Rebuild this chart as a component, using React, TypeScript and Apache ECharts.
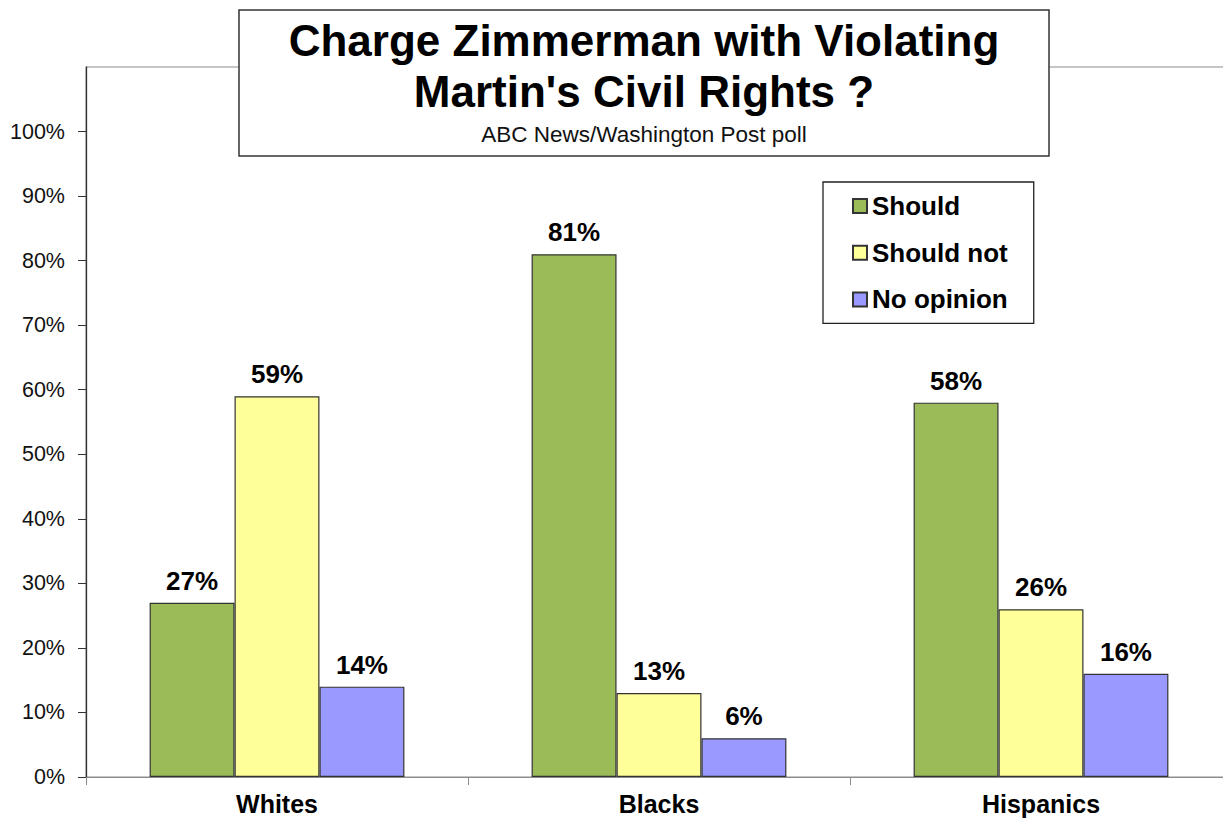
import React, { useEffect, useRef } from "react";
import * as echarts from "echarts";

const categories = ["Whites", "Blacks", "Hispanics"];
const seriesNames = ["Should", "Should not", "No opinion"];
const shouldValues = [27, 81, 58];
const shouldNotValues = [59, 13, 26];
const noOpinionValues = [14, 6, 16];
const yTickValues = [0, 10, 20, 30, 40, 50, 60, 70, 80, 90, 100];
const titleLine1 = "Charge Zimmerman with Violating";
const titleLine2 = "Martin's Civil Rights ?";
const subtitle = "ABC News/Washington Post poll";

const FONT = "'Liberation Sans', Arial, sans-serif";
const colors = ["#9BBB59", "#FFFF99", "#9999FF"];

export default function App() {
  const ref = useRef<HTMLDivElement>(null);
  useEffect(() => {
    document.body.style.margin = "0";
    if (!ref.current) return;
    const chart = echarts.init(ref.current, null, { renderer: "svg" });
    const values = [shouldValues, shouldNotValues, noOpinionValues];
    chart.setOption({
      animation: false,
      backgroundColor: "#fff",
      textStyle: { fontFamily: FONT },
      grid: {
        left: 86,
        top: 67,
        width: 1146,
        height: 710,
        show: true,
        borderColor: "#8c8c8c",
        borderWidth: 1,
        backgroundColor: "transparent",
      },
      legend: {
        left: 823,
        top: 182,
        orient: "vertical",
        padding: [11, 26, 11, 29],
        itemGap: 20.7,
        itemWidth: 14,
        itemHeight: 14,
        borderColor: "#222",
        borderWidth: 1.3,
        icon: "rect",
        textStyle: {
          fontFamily: FONT,
          fontSize: 26,
          fontWeight: "bold",
          lineHeight: 26,
          color: "#000",
        },
        data: seriesNames,
      },
      xAxis: {
        type: "category",
        data: categories,
        axisLine: { lineStyle: { color: "#8c8c8c", width: 1 } },
        axisTick: { show: true, length: 8, lineStyle: { color: "#8c8c8c" } },
        axisLabel: {
          fontFamily: FONT,
          fontSize: 25,
          fontWeight: "bold",
          color: "#000",
          lineHeight: 20,
          margin: 17,
        },
      },
      yAxis: {
        type: "value",
        min: 0,
        max: 110,
        interval: 10,
        splitLine: { show: false },
        axisLine: { show: true, lineStyle: { color: "#333", width: 1.3 } },
        axisTick: {
          show: true,
          length: 8,
          lineStyle: { color: "#333" },
          customValues: yTickValues,
        },
        axisLabel: {
          fontFamily: FONT,
          fontSize: 21.5,
          color: "#111",
          margin: 21,
          customValues: yTickValues,
          formatter: "{value}%",
        },
      },
      series: seriesNames.map((name, i) => ({
        name,
        type: "bar",
        data: values[i],
        barGap: "0%",
        barCategoryGap: "33.3%",
        itemStyle: { color: colors[i], borderColor: "#333", borderWidth: 1.2 },
        label: {
          show: true,
          position: "top",
          distance: 9,
          formatter: "{c}%",
          fontFamily: FONT,
          fontSize: 26,
          fontWeight: "bold",
          color: "#000",
        },
      })),
      graphic: [
        {
          type: "group",
          z: 100,
          children: [
            {
              type: "rect",
              shape: { x: 239, y: 10, width: 810, height: 146 },
              style: { fill: "#fff", stroke: "#333", lineWidth: 1.5 },
            },
            {
              type: "text",
              x: 644,
              y: 40,
              style: {
                text: titleLine1,
                fontFamily: FONT,
                fontSize: 44,
                fontWeight: "bold",
                fill: "#000",
                align: "center",
                verticalAlign: "middle",
              },
            },
            {
              type: "text",
              x: 644,
              y: 91,
              style: {
                text: titleLine2,
                fontFamily: FONT,
                fontSize: 44,
                fontWeight: "bold",
                fill: "#000",
                align: "center",
                verticalAlign: "middle",
              },
            },
            {
              type: "text",
              x: 644,
              y: 134,
              style: {
                text: subtitle,
                fontFamily: FONT,
                fontSize: 22.5,
                fill: "#111",
                align: "center",
                verticalAlign: "middle",
              },
            },
          ],
        },
      ],
    });
    return () => chart.dispose();
  }, []);
  return (
    <div style={{ width: 1223, height: 821, overflow: "hidden" }}>
      <div ref={ref} style={{ width: 1240, height: 821 }} />
    </div>
  );
}
